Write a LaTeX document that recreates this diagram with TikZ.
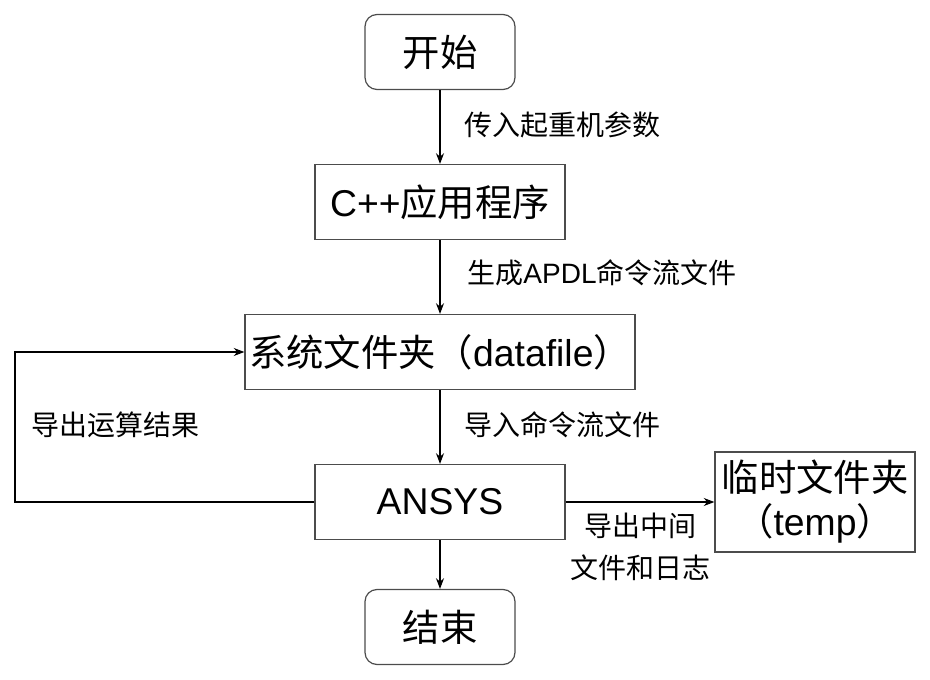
\documentclass[tikz,border=0pt]{standalone}
\usepackage{fontspec}
\setmainfont{Liberation Sans}
\newfontfamily\cjk{Noto Sans CJK SC}
\usetikzlibrary{arrows.meta}

\tikzset{
  boxtext/.style={font=\fontsize{28}{33}\selectfont, inner sep=0pt, align=center},
  roundbox/.style={boxtext, draw=black!70, line width=0.9pt, rounded corners=9pt,
    minimum width=112.5pt, minimum height=56.25pt},
  plainbox/.style={boxtext, draw=black!70, line width=0.9pt,
    minimum width=187.5pt, minimum height=56.25pt},
  steplabel/.style={font=\fontsize{21}{31}\selectfont, inner sep=0pt, align=center},
  flow/.style={-{Stealth[length=8pt,width=6pt]}, line width=0.8pt, black}
}

\begin{document}
\begin{tikzpicture}[x=0.75pt, y=-0.75pt]
  %%%%% START %%%%%
  \useasboundingbox (0,0) rectangle (930,680);

  \node[roundbox] (start) at (440,52) {\cjk 开始};
  \node[plainbox] (app) at (440,202) {C++{\cjk 应用程序}};
  \node[plainbox, minimum width=292.5pt] (datafile) at (440,352) {{\cjk 系统文件夹（}datafile{\cjk ）}};
  \node[plainbox] (ansys) at (440,502) {ANSYS};
  \node[roundbox] (finish) at (440,627) {\cjk 结束};
  \node[plainbox, minimum width=150pt, minimum height=75pt] (temp) at (815,502) {{\cjk 临时文件夹}\\{\cjk （}temp{\cjk ）}};

  \coordinate (loopbot) at (15,502);
  \coordinate (looptop) at (15,352);

  \draw[flow] (start) -- (app);
  \draw[flow] (app) -- (datafile);
  \draw[flow] (datafile) -- (ansys);
  \draw[flow] (ansys) -- (finish);
  \draw[flow] (ansys) -- (temp);
  \draw[flow] (ansys.west) -- (loopbot) -- (looptop) -- (datafile.west);

  \node[steplabel] (lbl1) at (562,125) {\cjk 传入起重机参数};
  \node[steplabel] (lbl2) at (602,273) {{\cjk 生成}APDL{\cjk 命令流文件}};
  \node[steplabel] (lbl3) at (562,425) {\cjk 导入命令流文件};
  \node[steplabel] (lbl4) at (115,425) {\cjk 导出运算结果};
  \node[steplabel] (lbl5) at (640,547) {{\cjk 导出中间}\\{\cjk 文件和日志}};

  %%%%% END %%%%%
\end{tikzpicture}
\end{document}
